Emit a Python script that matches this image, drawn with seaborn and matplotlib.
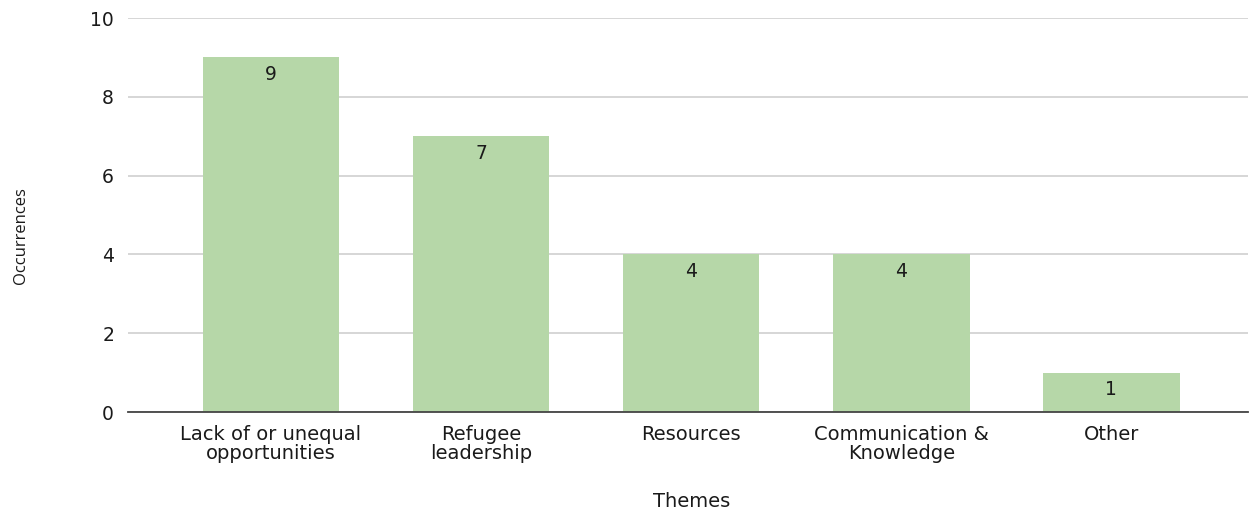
import matplotlib
matplotlib.use("Agg")
import matplotlib.pyplot as plt
import seaborn as sns
import pandas as pd

categories = ["Lack of or unequal\nopportunities", "Refugee\nleadership", "Resources",
              "Communication &\nKnowledge", "Other"]
occurrences = [9, 7, 4, 4, 1]
y_ticks = [0, 2, 4, 6, 8, 10]

df = pd.DataFrame({"Themes": categories, "Occurrences": occurrences})

sns.set_theme(style="white")
plt.rcParams["font.family"] = ["DejaVu Sans"]

fig = plt.figure(figsize=(12.5, 5.12), dpi=100)
ax = fig.add_axes([0.1024, 0.1953, 0.8960, 0.7695])

sns.barplot(data=df, x="Themes", y="Occurrences", color="#b6d7a8", saturation=1,
            width=0.65, linewidth=0, ax=ax, zorder=2)

for patch, val in zip(ax.patches, occurrences):
    ax.annotate(str(val), (patch.get_x() + patch.get_width() / 2, val),
                xytext=(0, -17), textcoords="offset pixels",
                ha="center", va="center", fontsize=13.5, color="#1a1a1a")

ax.set_ylim(0, 10)
ax.set_xlim(-0.68, 4.65)
ax.set_yticks(y_ticks)
ax.yaxis.grid(True, color="#d0d0d0", linewidth=1.2, zorder=0)
ax.set_axisbelow(True)
for side in ["top", "right", "left"]:
    ax.spines[side].set_visible(False)
ax.spines["bottom"].set_color("#444444")
ax.spines["bottom"].set_linewidth(1.3)
ax.spines["bottom"].set_zorder(3)

ax.tick_params(axis="y", length=0, pad=10, labelsize=13.5, labelcolor="#1a1a1a")
ax.tick_params(axis="x", length=0, pad=9, labelsize=14, labelcolor="#1a1a1a")
for lbl in ax.get_xticklabels():
    lbl.set_linespacing(1.02)

ax.set_xlabel("")
ax.set_ylabel("")
fig.text(0.553, 0.02, "Themes", ha="center", va="center",
         fontsize=14, color="#1a1a1a")
fig.text(0.017, 0.54, "Occurrences", rotation=90, ha="center", va="center",
         fontsize=12, color="#1a1a1a", family="Open Sans")

fig.savefig("out.png", dpi=100)
